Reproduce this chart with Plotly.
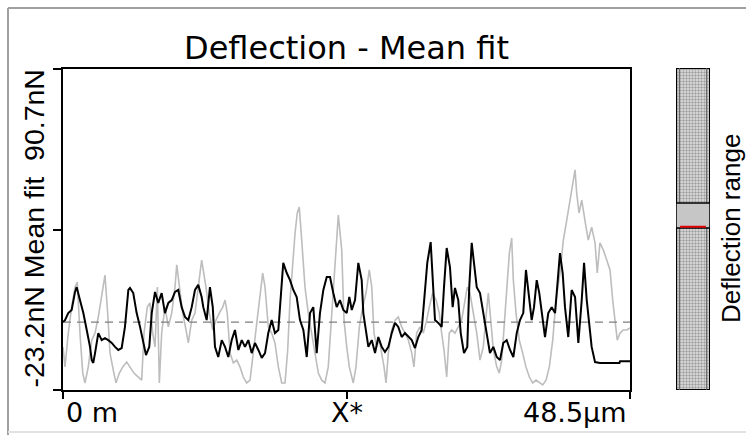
import plotly.graph_objects as go

W, H = 746, 435

# ---- data (x in µm, deflection in nN) ----
black_x = [0.0, 0.17, 0.45, 0.74, 1.03, 1.17, 1.45, 1.74, 2.03, 2.31, 2.46, 2.59, 2.74, 3.02, 3.31, 3.59, 3.87, 4.17,
           4.45, 4.73, 5.02, 5.30, 5.59, 5.73, 6.01, 6.30, 6.59, 6.87, 7.10, 7.38, 7.59, 7.87, 8.15, 8.44, 8.72, 9.01,
           9.30, 9.58, 9.86, 10.15, 10.44, 10.72, 11.01, 11.29, 11.57, 11.86, 12.00, 12.29, 12.57, 12.81, 13.00, 13.28,
           13.58, 13.86, 14.14, 14.43, 14.71, 15.00, 15.29, 15.57, 15.85, 16.14, 16.42, 16.71, 17.00, 17.28, 17.56,
           17.85, 18.13, 18.42, 18.62, 18.84, 19.14, 19.42, 19.70, 19.99, 20.27, 20.56, 20.85, 21.13, 21.41, 21.70,
           21.98, 22.27, 22.56, 22.84, 23.12, 23.41, 23.69, 23.98, 24.27, 24.49, 24.70, 24.98, 25.26, 25.55, 25.69,
           25.92, 26.12, 26.41, 26.69, 26.97, 27.26, 27.54, 27.83, 28.12, 28.40, 28.68, 28.97, 29.25, 29.54, 29.83,
           30.11, 30.39, 30.68, 30.97, 31.16, 31.45, 31.62, 31.82, 32.10, 32.39, 32.59, 32.82, 33.10, 33.33, 33.53,
           33.81, 34.02, 34.30, 34.58, 34.75, 34.96, 35.16, 35.39, 35.67, 35.95, 36.24, 36.52, 36.81, 37.10, 37.38,
           37.66, 37.95, 38.24, 38.52, 38.81, 39.09, 39.37, 39.60, 39.80, 40.09, 40.29, 40.52, 40.74, 40.95, 41.23,
           41.51, 41.80, 42.09, 42.28, 42.51, 42.74, 42.94, 43.22, 43.51, 43.80, 44.08, 44.37, 44.57, 44.80, 45.02,
           45.22, 45.51, 45.93, 46.51, 47.07, 47.60, 47.65, 48.36, 48.5]
black_y = [0.9, 1.6, 4.1, 5.2, 11.6, 13.3, 8.7, 4.1, -1.9, -7.9, -12.6, -13.6, -10.1, -3.0, -5.5, -4.8, -5.5, -6.5,
           -7.9, -9.0, -8.3, -0.8, 12.3, 13.0, 11.2, 4.1, -0.8, -6.5, -10.8, -7.9, 4.1, 11.6, 7.7, 11.2, 4.1, 7.7,
           8.7, 11.6, 12.3, 6.2, 2.7, 1.6, 6.2, 12.3, 14.1, 9.8, 6.2, 1.6, 13.3, 6.2, -7.9, -11.5,
           -5.5, -7.9, -11.5, -5.5, -1.9, -9.0, -5.5, -7.9, -5.5, -10.1, -6.5, -9.0, -11.8, -10.1, -3.0,
           1.6, -3.0, -1.9, 8.7, 21.9, 18.3, 15.8, 12.3, 9.8, 1.6, -1.9, -11.5, 4.1, 6.2, -10.1,
           4.1, 12.3, 16.9, 16.9, 11.2, 6.2, 8.7, 5.2, 4.1, 9.8, 5.2, 8.7, 21.9, 15.8, 4.1,
           -3.0, -7.9, -5.5, -10.1, -4.4, -7.9, -9.7, -7.9, -3.0, 0.6, -0.8, -4.4, -3.0, -4.4, -5.5,
           -8.3, -4.4, -1.9, 13.3, 21.9, 29.3, 18.3, 1.6, 0.6, -0.8, 13.3, 27.2, 20.4, 6.2, 13.0,
           8.7, -3.0, -10.1, -7.9, 13.3, 29.0, 21.9, 13.3, 11.2, 4.1, -3.0, -10.1, -7.9, -11.5, -12.6,
           -6.5, -5.5, -9.0, -11.5, -3.0, 1.6, 4.1, 19.4, 11.2, 1.6, 6.2, 15.8, 11.2, 4.1, -4.4,
           4.1, 6.2, 4.1, 13.3, 25.4, 18.3, 6.2, -4.4, 12.3, 9.8, -6.5, 8.7, 21.9, 8.7, -0.8,
           -7.9, -13.3, -13.6, -13.6, -13.6, -13.6, -13.0, -13.0, -13.0]

grey_x = [0.0, 0.17, 0.45, 0.74, 1.03, 1.22, 1.45, 1.69, 1.88, 2.16, 2.46, 2.74, 3.02, 3.31, 3.59, 3.82, 4.02, 4.30,
          4.53, 4.82, 5.11, 5.45, 5.73, 6.07, 6.44, 6.73, 6.93, 7.21, 7.44, 7.67, 7.87, 8.07, 8.24, 8.44, 8.72, 9.01,
          9.30, 9.58, 9.73, 9.95, 10.24, 10.52, 10.72, 11.01, 11.29, 11.57, 11.86, 12.23, 12.51, 12.81, 13.09, 13.37,
          13.66, 13.86, 14.05, 14.29, 14.57, 14.86, 15.14, 15.42, 15.71, 16.00, 16.28, 16.51, 16.79, 17.08, 17.28,
          17.56, 17.85, 18.13, 18.42, 18.71, 18.99, 19.22, 19.42, 19.65, 19.85, 20.04, 20.21, 20.42, 20.70, 20.98,
          21.27, 21.56, 21.84, 22.13, 22.41, 22.69, 22.98, 23.27, 23.55, 23.84, 24.04, 24.27, 24.49, 24.70, 24.83,
          25.06, 25.35, 25.64, 25.92, 26.20, 26.41, 26.60, 26.83, 27.06, 27.26, 27.46, 27.63, 27.83, 28.12, 28.40,
          28.68, 28.97, 29.25, 29.54, 29.83, 30.02, 30.25, 30.54, 30.82, 31.11, 31.33, 31.62, 31.91, 32.19, 32.39,
          32.59, 32.82, 33.04, 33.25, 33.53, 33.81, 34.10, 34.39, 34.58, 34.81, 35.10, 35.39, 35.67, 35.95, 36.18,
          36.38, 36.59, 36.81, 37.10, 37.32, 37.53, 37.72, 37.95, 38.18, 38.38, 38.52, 38.75, 39.03, 39.32, 39.60,
          39.89, 40.18, 40.46, 40.74, 41.03, 41.32, 41.60, 41.89, 42.17, 42.51, 42.80, 43.09, 43.37, 43.60, 43.80,
          43.94, 44.14, 44.37, 44.57, 44.74, 44.93, 45.22, 45.51, 45.70, 45.93, 46.22, 46.51, 46.79, 47.02, 47.22,
          47.41, 47.65, 47.93, 48.22, 48.44, 48.5]
grey_y = [-8.0, -15.0, -3.0, 6.2, 13.3, 15.1, -3.0, -17.2, -20.7, -15.0, -5.5, -3.0, 2.7, 11.2, 17.6, 4.1, -10.1, -16.1,
          -20.7, -17.2, -15.0, -13.3, -15.0, -17.2, -18.6, -19.7, -3.0, 6.2, 7.7, -3.0, -7.9, 13.3, -20.7, -3.0, 6.2, -0.8,
          4.1, 13.3, 21.2, 13.3, 4.1, -1.9, -6.5, 1.6, 4.1, 13.3, 22.9, 13.3, 4.1, -1.9, 1.6, 4.1,
          6.2, 8.7, 4.1, -10.1, -13.6, -12.6, -15.0, -18.6, -20.7, -19.7, -10.1, -0.8, 8.7, 18.3, 13.3,
          -0.8, -3.0, -6.5, -15.0, -20.7, -20.7, -9.0, 8.7, 22.9, 32.5, 39.6, 41.7, 30.0, 13.3, 4.1,
          -3.0, -10.1, -17.2, -19.7, -20.7, -15.0, 4.1, 22.9, 38.9, 26.5, 1.6, -7.9, -15.0, -18.6, -20.7,
          -15.0, -0.8, 6.2, 11.2, 19.4, 13.3, -3.0, -7.9, -5.5, -10.1, -15.0, -20.7, -10.1, -1.9, 1.6,
          2.7, -0.8, -3.0, -5.5, -10.1, -15.0, -3.0, -0.8, -3.0, 1.6, 6.2, 11.2, 8.7, 4.1, -3.0,
          -9.0, -18.6, -3.0, -1.9, -3.0, -0.8, 1.6, 8.7, 13.3, 11.2, 4.1, -3.0, -12.6, -7.9, 2.7,
          11.2, 1.6, -9.0, -15.0, -17.2, -12.6, -0.8, 13.3, 25.4, 30.7, 15.8, 4.1, -5.5, -10.1, -15.0,
          -18.6, -20.7, -19.7, -20.7, -21.4, -19.7, -15.0, -5.5, 8.7, 18.3, 30.0, 37.1, 44.2, 48.8, 54.9,
          46.7, 39.6, 44.2, 38.2, 34.6, 30.0, 34.6, 29.0, 18.3, 29.0, 26.5, 22.9, 19.4, 8.7, 1.6,
          -5.5, -3.0, -1.9, -1.9, -1.2, -1.2]

mean_level = 0.9
y_min, y_max = -23.2, 90.7
x_min, x_max = 0.0, 48.5
x_tick_vals = [0.0, 24.25, 48.5]
x_tick_text = ["0 m", "X*", "48.5µm"]
y_tick_vals = [-23.2, 33.75, 90.7]
y_label = "-23.2nN Mean fit\u00a0\u00a090.7nN"

# colour-bar ("Deflection range") data, as fraction of full range
cbar_full = [0.0, 1.0]
cbar_band = [0.503, 0.581]
cbar_marker = 0.507

FONT_H = "DejaVu Sans, Verdana, sans-serif"          # horizontal texts (wide glyphs)
FONT_V = "Liberation Sans, Arial, sans-serif"        # rotated texts

def px(x):
    return x / W

def py(y):
    return (H - y) / H

fig = go.Figure()

fig.add_trace(go.Scatter(x=grey_x, y=grey_y, mode="lines",
                         line=dict(color="#bdbdbd", width=1.6), hoverinfo="skip"))
fig.add_trace(go.Scatter(x=[x_min, x_max], y=[mean_level, mean_level], mode="lines",
                         line=dict(color="#7f7f7f", width=1.2, dash="8px,6px"), hoverinfo="skip"))
fig.add_trace(go.Scatter(x=black_x, y=black_y, mode="lines",
                         line=dict(color="#000000", width=2), hoverinfo="skip"))

# colour bar as a patterned bar on its own axes
fig.add_trace(go.Bar(x=[0.5], y=[cbar_full[1] - cbar_full[0]], base=[cbar_full[0]], width=[1.0],
                     xaxis="x2", yaxis="y2",
                     marker=dict(color="#e4e4e4",
                                 line=dict(color="#000000", width=2),
                                 pattern=dict(shape=".", fgcolor="#5a5a5a", bgcolor="#e4e4e4",
                                              size=3, solidity=0.5)),
                     hoverinfo="skip"))

axis_common = dict(showgrid=False, zeroline=False, showline=True, linecolor="black",
                   linewidth=2, mirror=True, ticks="outside", tickcolor="black", tickwidth=2,
                   showticklabels=False)

fig.update_layout(
    width=W, height=H,
    margin=dict(l=0, r=0, t=0, b=0),
    paper_bgcolor="white", plot_bgcolor="white",
    showlegend=False,
    xaxis=dict(domain=[px(63), px(630)], range=[x_min, x_max], tickvals=x_tick_vals,
               ticklen=7, **axis_common),
    yaxis=dict(domain=[py(390), py(69)], range=[y_min, y_max], tickvals=y_tick_vals,
               ticklen=8, **axis_common),
    xaxis2=dict(domain=[px(676), px(710)], range=[0, 1], visible=False, anchor="y2"),
    yaxis2=dict(domain=[py(390), py(68)], range=cbar_full, visible=False, anchor="x2"),
)

shapes = []
# window frame
shapes.append(dict(type="line", xref="paper", yref="paper", x0=px(8), x1=px(8), y0=py(8), y1=0,
                   line=dict(color="#a0a0a0", width=2)))
shapes.append(dict(type="line", xref="paper", yref="paper", x0=px(8), x1=1, y0=py(8), y1=py(8),
                   line=dict(color="#a0a0a0", width=2)))
shapes.append(dict(type="line", xref="paper", yref="paper", x0=px(8), x1=1, y0=py(432), y1=py(432),
                   line=dict(color="#e2e2e2", width=2)))
# colour bar inner edge lines
for fx in (0.1, 0.9):
    shapes.append(dict(type="line", xref="x2", yref="y2", x0=fx, x1=fx, y0=cbar_full[0], y1=cbar_full[1],
                       line=dict(color="#606060", width=1)))
# colour bar band and marker
shapes.append(dict(type="rect", xref="x2", yref="y2", x0=0, x1=1, y0=cbar_band[0], y1=cbar_band[1],
                   fillcolor="#c6c6c6", line=dict(color="#000000", width=1.5)))
shapes.append(dict(type="line", xref="x2", yref="y2", x0=0.12, x1=0.88, y0=cbar_marker, y1=cbar_marker,
                   line=dict(color="#e00000", width=2)))
fig.update_layout(shapes=shapes)

ann = []
ann.append(dict(text="Deflection - Mean fit", x=px(346), y=py(48), xref="paper", yref="paper",
                showarrow=False, xanchor="center", yanchor="middle",
                font=dict(family=FONT_H, size=32, color="black")))
ann.append(dict(text=y_label, x=px(33), y=py(228.5), xref="paper", yref="paper",
                showarrow=False, xanchor="center", yanchor="middle", textangle=-90,
                font=dict(family=FONT_V, size=28.5, color="black")))
ann.append(dict(text="Deflection range", x=px(731), y=py(229), xref="paper", yref="paper",
                showarrow=False, xanchor="center", yanchor="middle", textangle=-90,
                font=dict(family=FONT_V, size=26, color="black")))
ann.append(dict(text=x_tick_text[0], x=0, y=py(412), xref="x", yref="paper",
                showarrow=False, xanchor="left", yanchor="middle", xshift=1,
                font=dict(family=FONT_H, size=27, color="black")))
ann.append(dict(text=x_tick_text[1], x=x_tick_vals[1], y=py(412), xref="x", yref="paper",
                showarrow=False, xanchor="center", yanchor="middle",
                font=dict(family=FONT_H, size=27, color="black")))
ann.append(dict(text=x_tick_text[2], x=x_tick_vals[2], y=py(412), xref="x", yref="paper",
                showarrow=False, xanchor="right", yanchor="middle", xshift=-1,
                font=dict(family=FONT_H, size=27, color="black")))
fig.update_layout(annotations=ann)

fig.write_html("out.html")
